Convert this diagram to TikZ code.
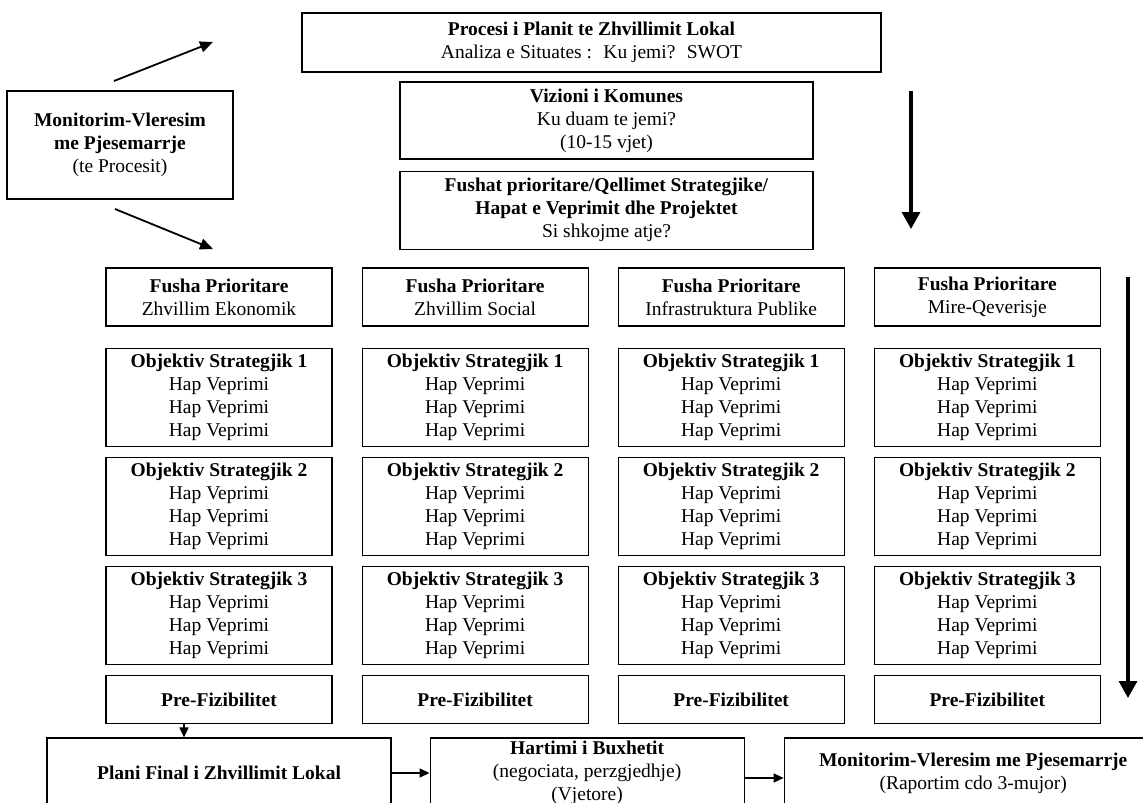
\documentclass[tikz,border=0pt]{standalone}
\usepackage{fontspec}
\setmainfont{Liberation Serif}
\usepackage{tikz}
\usetikzlibrary{positioning,arrows.meta}

\begin{document}
\begin{tikzpicture}[
  x=1pt, y=-1pt,
  node distance=10pt and 29pt,
  mybox/.style={draw,line width=1.1pt,align=center,inner sep=0pt,
    font=\fontsize{19.5}{23}\selectfont},
  fpbox/.style={mybox,minimum width=226pt,minimum height=58pt},
  osbox/.style={mybox,minimum width=226pt,minimum height=98pt},
  pfbox/.style={mybox,minimum width=226pt,minimum height=48pt},
  thin/.style={line width=1.5pt,-{Triangle[length=10pt,width=9pt]}},
  diag/.style={line width=1.8pt,-{Triangle[length=13pt,width=11pt]}},
  thick/.style={line width=3.3pt,-{Triangle[length=17pt,width=18pt]}}
]
\clip (0,0) rectangle (1143,803);

% top of the process
\node[mybox,minimum width=579pt,minimum height=59pt] (proc) at (591.5,42.5)
  {\textbf{Procesi i Planit te Zhvillimit Lokal}\\Analiza e Situates :~ Ku jemi?~ SWOT};
\node[mybox,minimum width=413pt,minimum height=77pt] (viz) at (606.5,120.5)
  {\textbf{Vizioni i Komunes}\\Ku duam te jemi?\\(10-15 vjet)};
\node[mybox,minimum width=413pt,minimum height=78pt,below=11pt of viz] (fush)
  {\textbf{Fushat prioritare/Qellimet Strategjike/}\\\textbf{Hapat e Veprimit dhe Projektet}\\Si shkojme atje?};
\node[mybox,minimum width=226pt,minimum height=108pt] (mon) at (120,145)
  {\textbf{Monitorim-Vleresim}\\\textbf{me Pjesemarrje}\\(te Procesit)};

% columns
\node[fpbox] (fp1) at (219,297) {\textbf{Fusha Prioritare}\\Zhvillim Ekonomik};
\node[fpbox,right=of fp1] (fp2) {\textbf{Fusha Prioritare}\\Zhvillim Social};
\node[fpbox,right=of fp2] (fp3) {\textbf{Fusha Prioritare}\\Infrastruktura Publike};
\node[fpbox,right=of fp3] (fp4) {\textbf{Fusha Prioritare}\\Mire-Qeverisje};

\node[osbox,below=21pt of fp1] (os11) {\textbf{Objektiv Strategjik 1}\\Hap Veprimi\\Hap Veprimi\\Hap Veprimi};
\node[osbox,below=of os11] (os21) {\textbf{Objektiv Strategjik 2}\\Hap Veprimi\\Hap Veprimi\\Hap Veprimi};
\node[osbox,below=of os21] (os31) {\textbf{Objektiv Strategjik 3}\\Hap Veprimi\\Hap Veprimi\\Hap Veprimi};
\node[pfbox,below=of os31] (pf1) {\textbf{Pre-Fizibilitet}};

\node[osbox,below=21pt of fp2] (os12) {\textbf{Objektiv Strategjik 1}\\Hap Veprimi\\Hap Veprimi\\Hap Veprimi};
\node[osbox,below=of os12] (os22) {\textbf{Objektiv Strategjik 2}\\Hap Veprimi\\Hap Veprimi\\Hap Veprimi};
\node[osbox,below=of os22] (os32) {\textbf{Objektiv Strategjik 3}\\Hap Veprimi\\Hap Veprimi\\Hap Veprimi};
\node[pfbox,below=of os32] (pf2) {\textbf{Pre-Fizibilitet}};

\node[osbox,below=21pt of fp3] (os13) {\textbf{Objektiv Strategjik 1}\\Hap Veprimi\\Hap Veprimi\\Hap Veprimi};
\node[osbox,below=of os13] (os23) {\textbf{Objektiv Strategjik 2}\\Hap Veprimi\\Hap Veprimi\\Hap Veprimi};
\node[osbox,below=of os23] (os33) {\textbf{Objektiv Strategjik 3}\\Hap Veprimi\\Hap Veprimi\\Hap Veprimi};
\node[pfbox,below=of os33] (pf3) {\textbf{Pre-Fizibilitet}};

\node[osbox,below=21pt of fp4] (os14) {\textbf{Objektiv Strategjik 1}\\Hap Veprimi\\Hap Veprimi\\Hap Veprimi};
\node[osbox,below=of os14] (os24) {\textbf{Objektiv Strategjik 2}\\Hap Veprimi\\Hap Veprimi\\Hap Veprimi};
\node[osbox,below=of os24] (os34) {\textbf{Objektiv Strategjik 3}\\Hap Veprimi\\Hap Veprimi\\Hap Veprimi};
\node[pfbox,below=of os34] (pf4) {\textbf{Pre-Fizibilitet}};

% bottom row
\node[mybox,minimum width=344pt,minimum height=70pt] (plan) at (219,773)
  {\textbf{Plani Final i Zhvillimit Lokal}};
\node[mybox,minimum width=314pt,minimum height=70pt,right=38pt of plan] (bux)
  {\textbf{Hartimi i Buxhetit}\\(negociata, perzgjedhje)\\(Vjetore)};
\node[mybox,minimum width=378pt,minimum height=70pt,right=39pt of bux] (mon2)
  {\textbf{Monitorim-Vleresim me Pjesemarrje}\\(Raportim cdo 3-mujor)};

\coordinate (a1) at (114,81);
\coordinate (a2) at (213,42);
\coordinate (b1) at (115,209);
\coordinate (b2) at (213,249);
\coordinate (v1) at (911,91);
\coordinate (v2) at (911,229);
\coordinate (w1) at (1128,277);
\coordinate (w2) at (1128,698);
\coordinate (pp) at (184,0);

\draw[diag] (a1) -- (a2);
\draw[diag] (b1) -- (b2);
\draw[thick] (v1) -- (v2);
\draw[thick] (w1) -- (w2);
\draw[thin] (pp |- pf1.south) -- (pp |- plan.north);
\draw[thin] (plan) -- (bux);
\draw[thin] ([yshift=-5pt]bux.east) -- ([yshift=-5pt]mon2.west);

\end{tikzpicture}
\end{document}
